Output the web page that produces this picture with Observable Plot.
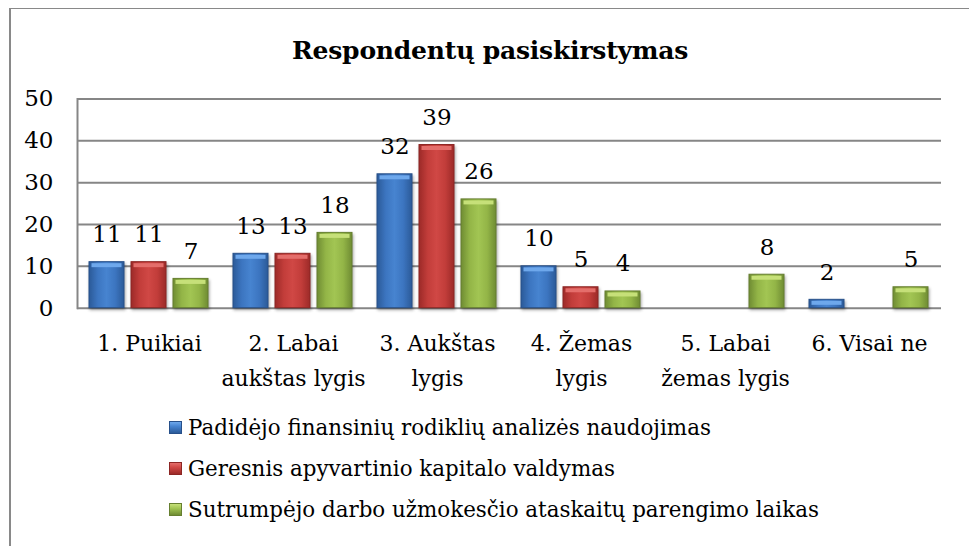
<!DOCTYPE html>
<html>
<head>
<meta charset="utf-8">
<script src="https://cdn.jsdelivr.net/npm/d3@7"></script>
<script src="https://cdn.jsdelivr.net/npm/@observablehq/plot@0.6"></script>
<style>
  html, body { margin: 0; padding: 0; background: #fff; overflow: hidden; width: 969px; height: 546px; }
  #box { position: absolute; left: 9px; top: 8px; width: 1000px; height: 600px; border-top: 1.5px solid #898989; border-left: 2px solid #898989; }
  #title { position: absolute; left: 9px; width: 962px; top: 38px; text-align: center; font-weight: bold; font-size: 25px; font-family: "DejaVu Serif", serif; line-height: 1; color: #000; letter-spacing: -0.2px; }
  #chart { position: absolute; left: 0; top: 80px; }
  #legend { position: absolute; left: 169px; top: 407px; font-size: 21.4px; font-family: "DejaVu Serif", serif; color: #000; }
  #legend .row { height: 41px; line-height: 41px; white-space: nowrap; }
  #legend .sw { display: inline-block; width: 13px; height: 13px; margin-right: 6px; vertical-align: 1px; box-sizing: border-box; }
  svg g[aria-label="bar"] rect { filter: drop-shadow(1px 2px 1.5px rgba(0,0,0,0.35)); }
</style>
</head>
<body>
<div id="box"></div>
<div id="title">Respondentų pasiskirstymas</div>
<div id="chart"></div>
<div id="legend"></div>
<script>
const categories = ["1. Puikiai", "2. Labai aukštas lygis", "3. Aukštas lygis", "4. Žemas lygis", "5. Labai žemas lygis", "6. Visai ne"];
const categoryLabels = ["1. Puikiai", "2. Labai\naukštas lygis", "3. Aukštas\nlygis", "4. Žemas\nlygis", "5. Labai\nžemas lygis", "6. Visai ne"];
const series = ["Padidėjo finansinių rodiklių analizės naudojimas", "Geresnis apyvartinio kapitalo valdymas", "Sutrumpėjo darbo užmokesčio ataskaitų parengimo laikas"];
const values1 = [11, 13, 32, 10, null, 2];
const values2 = [11, 13, 39, 5, null, null];
const values3 = [7, 18, 26, 4, 8, 5];
const yTicks = [0, 10, 20, 30, 40, 50];

const FONT = "'DejaVu Serif', serif";
const FS = 22;
const seriesValues = [values1, values2, values3];
const gradIds = ["gBlue", "gRed", "gGreen"];
const gradStops = [
  ["#2b5a98", "#3c75c0", "#4784d0", "#3c75c0", "#2b5a98"],
  ["#9c2a28", "#c23d3a", "#d04845", "#c23d3a", "#9c2a28"],
  ["#6f8c33", "#93b547", "#a2c553", "#93b547", "#6f8c33"]
];
const highlight = ["#6ea8ec", "#e46e6b", "#c6e079"];
const edge = ["#27508a", "#8c2624", "#667f30"];

const rows = [];
categories.forEach((c, i) => {
  series.forEach((s, j) => {
    const v = seriesValues[j][i];
    if (v != null) rows.push({category: c, series: s, si: j, value: v});
  });
});

const marks = [
  Plot.gridY(yTicks, {stroke: "#868686", strokeOpacity: 1, strokeWidth: 2}),
  Plot.axisY(yTicks, {tickSize: 0, tickPadding: 24, fontSize: FS + 1, fill: "#000", label: null}),
  Plot.frame({anchor: "left", stroke: "#868686", strokeWidth: 2, facetAnchor: "left"}),
  Plot.axisFx({anchor: "bottom", tickSize: 0, tickPadding: 18, lineAnchor: "top", fontSize: FS, lineHeight: 1.58, fill: "#000", label: null,
    tickFormat: d => categoryLabels[categories.indexOf(d)]})
];
series.forEach((s, j) => {
  const data = rows.filter(r => r.si === j);
  marks.push(Plot.barY(data, {fx: "category", x: "series", y: "value", fill: `url(#${gradIds[j]})`, stroke: edge[j], strokeWidth: 1}));
  marks.push(Plot.tickY(data, {fx: "category", x: "series", y: "value", stroke: highlight[j], strokeWidth: 4, dy: 3, inset: 2.5}));
});
marks.push(Plot.text(rows, {fx: "category", x: "series", y: "value", text: d => String(d.value), dy: -27.5, fontSize: FS + 1, fill: "#000"}));

const plot = Plot.plot({
  width: 969,
  height: 320,
  marginLeft: 77,
  marginRight: 28,
  marginTop: 18.5,
  marginBottom: 92.3,
  style: {fontFamily: FONT, fontSize: FS + "px", background: "transparent", overflow: "visible", color: "#000"},
  fx: {domain: categories, padding: 0, axis: null, label: null},
  x: {domain: series, paddingInner: 0.163, paddingOuter: 0.256, axis: null, label: null},
  y: {domain: [0, 50], axis: null, label: null},
  marks
});

const NS = "http://www.w3.org/2000/svg";
const defs = document.createElementNS(NS, "defs");
gradIds.forEach((id, j) => {
  const g = document.createElementNS(NS, "linearGradient");
  g.setAttribute("id", id);
  g.setAttribute("x1", "0"); g.setAttribute("x2", "1"); g.setAttribute("y1", "0"); g.setAttribute("y2", "0");
  gradStops[j].forEach((c, k) => {
    const st = document.createElementNS(NS, "stop");
    st.setAttribute("offset", String(k / 4));
    st.setAttribute("stop-color", c);
    g.appendChild(st);
  });
  defs.appendChild(g);
});
plot.insertBefore(defs, plot.firstChild);
plot.querySelectorAll("text").forEach(t => t.style.fontFamily = FONT);
document.getElementById("chart").appendChild(plot);

const legend = document.getElementById("legend");
series.forEach((s, j) => {
  const row = document.createElement("div");
  row.className = "row";
  const sw = document.createElement("span");
  sw.className = "sw";
  sw.style.background = `linear-gradient(to bottom, ${highlight[j]} 0%, ${gradStops[j][2]} 40%, ${gradStops[j][0]} 100%)`;
  sw.style.border = `1px solid ${edge[j]}`;
  row.appendChild(sw);
  row.appendChild(document.createTextNode(s));
  legend.appendChild(row);
});
</script>
</body>
</html>
